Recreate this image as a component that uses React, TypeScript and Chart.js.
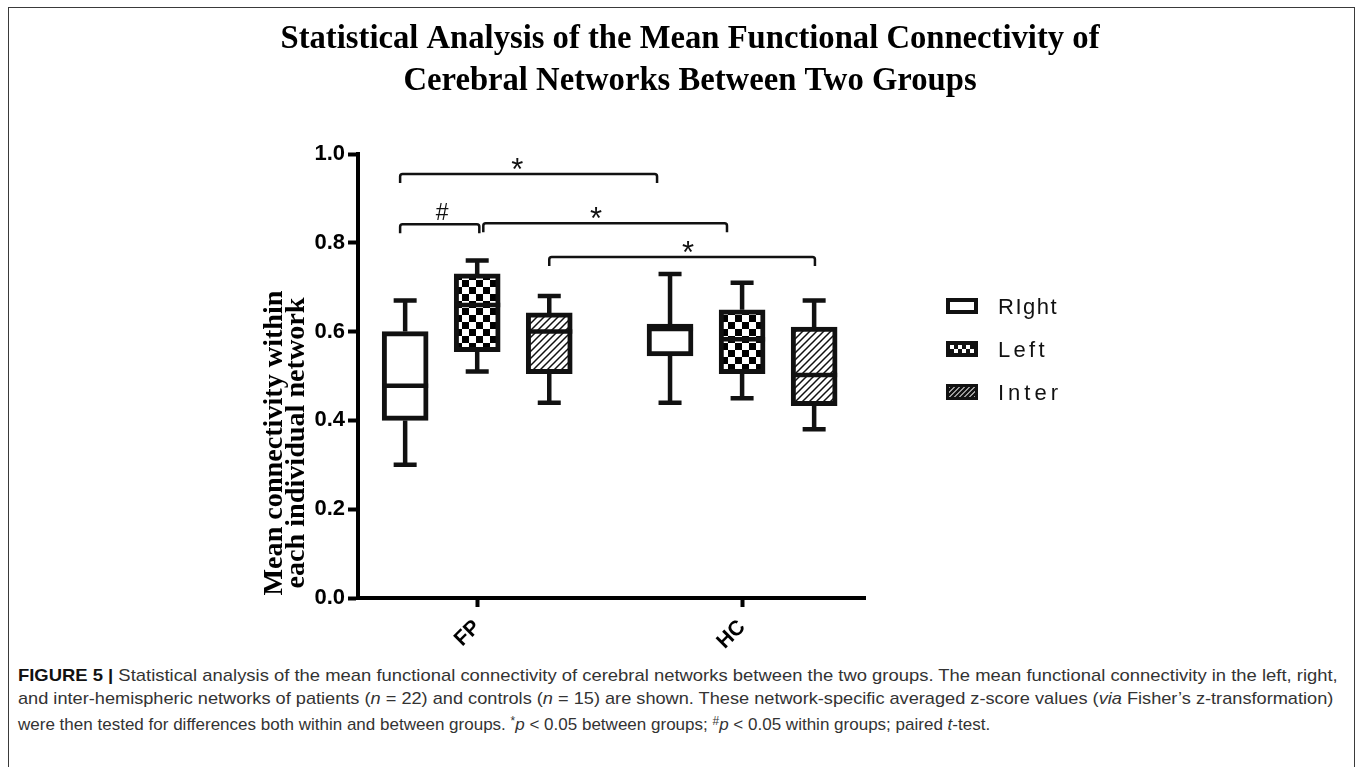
import React, { useEffect, useLayoutEffect, useRef } from 'react';
import { Chart, registerables } from 'chart.js';

Chart.register(...registerables);

// ---------------- data ----------------
const TITLE_LINES = [
  'Statistical Analysis of the Mean Functional Connectivity of',
  'Cerebral Networks Between Two Groups',
];
const Y_TITLE_LINES = ['Mean connectivity within', 'each individual network'];
const GROUPS = ['FP', 'HC'];
const GROUP_POS = [1, 2];
const SERIES = ['RIght', 'Left', 'Inter'];
const Y_TICKS = [0, 0.2, 0.4, 0.6, 0.8, 1.0];

// [series][group]
const MIN_VALUES = [
  [0.30, 0.44],
  [0.51, 0.45],
  [0.44, 0.38],
];
const Q1_VALUES = [
  [0.40, 0.545],
  [0.555, 0.505],
  [0.505, 0.433],
];
const MEDIAN_VALUES = [
  [0.478, 0.606],
  [0.66, 0.583],
  [0.60, 0.502],
];
const Q3_VALUES = [
  [0.60, 0.617],
  [0.73, 0.649],
  [0.642, 0.61],
];
const MAX_VALUES = [
  [0.67, 0.73],
  [0.76, 0.71],
  [0.68, 0.67],
];

// significance brackets
const BRACKET_LABELS = ['*', '#', '*', '*'];
const BRACKET_FROM = [0.709, 0.709, 1.023, 1.272];
const BRACKET_TO = [1.679, 1.008, 1.943, 2.275];
const BRACKET_LEVEL = [0.955, 0.842, 0.844, 0.768];
const BRACKET_LABEL_AT = [1.151, 0.868, 1.449, 1.796];

// ---------------- layout / style ----------------
const SERIES_OFFSET = [-0.272, 0, 0.272];
const X_MIN = 0.55;
const X_MAX = 2.464;
const CANVAS_W = 1357;
const CANVAS_H = 658;
const SANS = 'Arial, "Liberation Sans", sans-serif';
const SERIF = '"Times New Roman", "Liberation Serif", serif';
const LEGEND_SPACING = [1.5, 3.3, 4];
const CAPTION_WIDTHS = [1320, 1315, 972];

function makeChecker(): CanvasPattern | string {
  const c = document.createElement('canvas');
  c.width = 14;
  c.height = 14;
  const g = c.getContext('2d');
  if (!g) return '#fff';
  g.fillStyle = '#fff';
  g.fillRect(0, 0, 14, 14);
  g.fillStyle = '#000';
  g.fillRect(0, 0, 7, 7);
  g.fillRect(7, 7, 7, 7);
  return g.createPattern(c, 'repeat') || '#fff';
}

function makeHatch(): CanvasPattern | string {
  const c = document.createElement('canvas');
  c.width = 7;
  c.height = 7;
  const g = c.getContext('2d');
  if (!g) return '#fff';
  g.fillStyle = '#fff';
  g.fillRect(0, 0, 7, 7);
  g.strokeStyle = '#111';
  g.lineWidth = 1.5;
  g.beginPath();
  g.moveTo(-1, 8);
  g.lineTo(8, -1);
  g.moveTo(-2, 2);
  g.lineTo(2, -2);
  g.moveTo(5, 9);
  g.lineTo(9, 5);
  g.stroke();
  return g.createPattern(c, 'repeat') || '#fff';
}

const textPlugin = {
  id: 'figureText',
  afterDraw(chart: any) {
    const ctx = chart.ctx;
    ctx.save();
    // Title
    ctx.fillStyle = '#000';
    ctx.font = 'bold 33px ' + SERIF;
    ctx.textAlign = 'center';
    ctx.textBaseline = 'alphabetic';
    const sx = 819 / ctx.measureText(TITLE_LINES[0]).width;
    TITLE_LINES.forEach((t, i) => {
      ctx.save();
      ctx.translate(690, 48 + i * 42);
      ctx.scale(sx, 1);
      ctx.fillText(t, 0, 0);
      ctx.restore();
    });
    // Y axis title
    ctx.font = 'bold 27px ' + SERIF;
    const sy = 305 / ctx.measureText(Y_TITLE_LINES[0]).width;
    Y_TITLE_LINES.forEach((t, i) => {
      ctx.save();
      ctx.translate(282 + i * 22, 443);
      ctx.rotate(-Math.PI / 2);
      ctx.scale(sy, 1);
      ctx.fillText(t, 0, 0);
      ctx.restore();
    });
    ctx.restore();
  },
};

const whiskerPlugin = {
  id: 'whiskers',
  beforeDatasetsDraw(chart: any) {
    const ctx = chart.ctx;
    const ys = chart.scales.y;
    ctx.save();
    ctx.strokeStyle = '#111';
    ctx.lineWidth = 4.5;
    ctx.lineCap = 'butt';
    SERIES.forEach((_, s) => {
      const meta = chart.getDatasetMeta(s);
      GROUPS.forEach((__, g) => {
        const el = meta.data[g];
        const x = el.x;
        const yMin = ys.getPixelForValue(MIN_VALUES[s][g]);
        const yMax = ys.getPixelForValue(MAX_VALUES[s][g]);
        const yQ1 = ys.getPixelForValue(Q1_VALUES[s][g]);
        const yQ3 = ys.getPixelForValue(Q3_VALUES[s][g]);
        const cap = el.width / 4;
        ctx.beginPath();
        ctx.moveTo(x, yQ3);
        ctx.lineTo(x, yMax);
        ctx.moveTo(x, yQ1);
        ctx.lineTo(x, yMin);
        ctx.moveTo(x - cap, yMax);
        ctx.lineTo(x + cap, yMax);
        ctx.moveTo(x - cap, yMin);
        ctx.lineTo(x + cap, yMin);
        ctx.stroke();
      });
    });
    ctx.restore();
  },
  afterDatasetsDraw(chart: any) {
    const ctx = chart.ctx;
    const ys = chart.scales.y;
    ctx.save();
    ctx.strokeStyle = '#111';
    ctx.lineWidth = 4.5;
    SERIES.forEach((_, s) => {
      const meta = chart.getDatasetMeta(s);
      GROUPS.forEach((__, g) => {
        const el = meta.data[g];
        const y = ys.getPixelForValue(MEDIAN_VALUES[s][g]);
        ctx.beginPath();
        ctx.moveTo(el.x - el.width / 2, y);
        ctx.lineTo(el.x + el.width / 2, y);
        ctx.stroke();
      });
    });
    ctx.restore();
  },
};

const bracketPlugin = {
  id: 'brackets',
  afterDraw(chart: any) {
    const ctx = chart.ctx;
    const xs = chart.scales.x;
    const ys = chart.scales.y;
    ctx.save();
    ctx.strokeStyle = '#111';
    ctx.lineWidth = 2.5;
    ctx.fillStyle = '#111';
    ctx.textAlign = 'center';
    ctx.textBaseline = 'alphabetic';
    BRACKET_LABELS.forEach((label, b) => {
      const x1 = xs.getPixelForValue(BRACKET_FROM[b]);
      const x2 = xs.getPixelForValue(BRACKET_TO[b]);
      const y = ys.getPixelForValue(BRACKET_LEVEL[b]);
      const drop = 9;
      const r = 2.5;
      ctx.beginPath();
      ctx.moveTo(x1, y + drop);
      ctx.lineTo(x1, y + r);
      ctx.arcTo(x1, y, x1 + r, y, r);
      ctx.lineTo(x2 - r, y);
      ctx.arcTo(x2, y, x2, y + r, r);
      ctx.lineTo(x2, y + drop);
      ctx.stroke();
      const lx = xs.getPixelForValue(BRACKET_LABEL_AT[b]);
      if (label === '*') {
        ctx.font = '31px ' + SANS;
        ctx.fillText(label, lx, y + 6);
      } else {
        ctx.font = '23px ' + SANS;
        ctx.fillText(label, lx, y - 4);
      }
    });
    ctx.restore();
  },
};

const legendPlugin = {
  id: 'boxLegend',
  afterDraw(chart: any) {
    const ctx = chart.ctx;
    const x0 = 946;
    const rows = [306, 349, 392];
    ctx.save();
    // Right icon
    let y = rows[0] - 8;
    ctx.fillStyle = '#111';
    ctx.fillRect(x0, y, 32, 16);
    ctx.fillStyle = '#fff';
    ctx.fillRect(x0 + 4, y + 4, 24, 8);
    // Left icon
    y = rows[1] - 8;
    ctx.fillStyle = '#111';
    ctx.fillRect(x0, y, 32, 16);
    for (let i = 0; i < 6; i++) {
      for (let j = 0; j < 2; j++) {
        ctx.fillStyle = (i + j) % 2 === 0 ? '#fff' : '#111';
        ctx.fillRect(x0 + 4 + i * 4, y + 4 + j * 4, 4, 4);
      }
    }
    // Inter icon
    y = rows[2] - 8;
    ctx.fillStyle = '#111';
    ctx.fillRect(x0, y, 32, 16);
    ctx.fillStyle = '#ddd';
    ctx.fillRect(x0 + 3, y + 3, 26, 10);
    ctx.save();
    ctx.beginPath();
    ctx.rect(x0 + 3, y + 3, 26, 10);
    ctx.clip();
    ctx.strokeStyle = '#111';
    ctx.lineWidth = 2.6;
    ctx.beginPath();
    for (let k = -12; k < 40; k += 5) {
      ctx.moveTo(x0 + k, y + 16);
      ctx.lineTo(x0 + k + 16, y);
    }
    ctx.stroke();
    ctx.restore();
    // labels
    ctx.fillStyle = '#111';
    ctx.font = '22px ' + SANS;
    ctx.textAlign = 'left';
    ctx.textBaseline = 'alphabetic';
    SERIES.forEach((name, i) => {
      (ctx as any).letterSpacing = LEGEND_SPACING[i] + 'px';
      ctx.fillText(name, 998, rows[i] + 8);
    });
    (ctx as any).letterSpacing = '0px';
    ctx.restore();
  },
};

function ChartCanvas() {
  const canvasRef = useRef<HTMLCanvasElement>(null);
  useEffect(() => {
    if (!canvasRef.current) return;
    const fills = ['#fff', makeChecker(), makeHatch()];
    const datasets = SERIES.map((name, s) => ({
      label: name,
      data: GROUPS.map((_, g) => ({
        x: GROUP_POS[g] + SERIES_OFFSET[s],
        y: [Q1_VALUES[s][g], Q3_VALUES[s][g]],
      })),
      backgroundColor: fills[s],
      borderColor: '#111',
      borderWidth: 5,
      borderSkipped: false,
      barThickness: 46,
      grouped: false,
    }));
    const chart = new Chart(canvasRef.current, {
      type: 'bar',
      data: { datasets: datasets as any },
      options: {
        responsive: false,
        maintainAspectRatio: false,
        animation: false,
        events: [],
        layout: { padding: { left: 0, top: 154, right: CANVAS_W - 865, bottom: 0 } },
        plugins: {
          legend: { display: false },
          tooltip: { enabled: false },
          title: { display: false },
        },
        scales: {
          x: {
            type: 'linear',
            min: X_MIN,
            max: X_MAX,
            offset: false,
            afterBuildTicks: (s: any) => {
              s.ticks = GROUP_POS.map((v) => ({ value: v }));
            },
            afterFit: (s: any) => {
              s.height = CANVAS_H - 598;
            },
            ticks: {
              callback: (v: any) => GROUPS[GROUP_POS.indexOf(Number(v))] ?? '',
              minRotation: 45,
              maxRotation: 45,
              autoSkip: false,
              font: { family: SANS, size: 21, weight: 'bold' },
              color: '#000',
              padding: 8,
            },
            grid: {
              offset: false,
              drawOnChartArea: false,
              drawTicks: true,
              tickLength: 9,
              tickWidth: 4,
              tickColor: '#000',
            },
            border: { display: true, width: 4, color: '#000' },
          },
          y: {
            type: 'linear',
            min: 0,
            max: 1,
            afterBuildTicks: (s: any) => {
              s.ticks = Y_TICKS.map((v) => ({ value: v }));
            },
            afterFit: (s: any) => {
              s.width = 358;
            },
            ticks: {
              callback: (v: any) => Number(v).toFixed(1),
              font: { family: SANS, size: 22, weight: 'bold' },
              color: '#000',
              padding: 3,
            },
            grid: {
              drawOnChartArea: false,
              drawTicks: true,
              tickLength: 10,
              tickWidth: 4,
              tickColor: '#000',
            },
            border: { display: true, width: 4, color: '#000' },
          },
        },
      } as any,
      plugins: [whiskerPlugin, bracketPlugin, legendPlugin, textPlugin],
    });
    return () => chart.destroy();
  }, []);
  return (
    <canvas
      ref={canvasRef}
      width={CANVAS_W}
      height={CANVAS_H}
      style={{ position: 'absolute', left: 0, top: 0, width: CANVAS_W, height: CANVAS_H }}
    />
  );
}

function Caption() {
  const l1 = useRef<HTMLSpanElement>(null);
  const l2 = useRef<HTMLSpanElement>(null);
  const l3 = useRef<HTMLSpanElement>(null);
  useLayoutEffect(() => {
    [l1, l2, l3].forEach((r, i) => {
      const el = r.current;
      if (!el) return;
      const w = el.offsetWidth;
      if (w > 0) el.style.transform = `scaleX(${CAPTION_WIDTHS[i] / w})`;
    });
  }, []);
  const lineStyle: React.CSSProperties = { whiteSpace: 'nowrap', height: 23 };
  const spanStyle: React.CSSProperties = { display: 'inline-block', transformOrigin: '0 0' };
  const sup: React.CSSProperties = { fontSize: '0.7em', verticalAlign: '0.45em' };
  return (
    <div
      style={{
        position: 'absolute',
        left: 18,
        top: 664,
        fontFamily: SANS,
        fontSize: 17,
        lineHeight: '23px',
        color: '#333',
      }}
    >
      <div style={lineStyle}>
        <span ref={l1} style={spanStyle}>
          <b style={{ color: '#111' }}>FIGURE 5 |</b> Statistical analysis of the mean functional connectivity of cerebral
          networks between the two groups. The mean functional connectivity in the left, right,
        </span>
      </div>
      <div style={lineStyle}>
        <span ref={l2} style={spanStyle}>
          and inter-hemispheric networks of patients (<i>n</i> = 22) and controls (<i>n</i> = 15) are shown. These
          network-specific averaged z-score values (<i>via</i> Fisher’s z-transformation)
        </span>
      </div>
      <div style={lineStyle}>
        <span ref={l3} style={spanStyle}>
          were then tested for differences both within and between groups. <span style={sup}>*</span>
          <i>p</i> &lt; 0.05 between groups; <span style={sup}>#</span>
          <i>p</i> &lt; 0.05 within groups; paired <i>t</i>-test.
        </span>
      </div>
    </div>
  );
}

export default function App() {
  return (
    <div
      style={{
        position: 'absolute',
        left: 0,
        top: 0,
        width: 1357,
        height: 767,
        overflow: 'hidden',
        background: '#fff',
      }}
    >
      <div
        style={{
          position: 'absolute',
          left: 8,
          top: 7,
          width: 1347,
          height: 800,
          border: '1.5px solid #3a3a3a',
          boxSizing: 'border-box',
        }}
      />
      <ChartCanvas />
      <Caption />
    </div>
  );
}
